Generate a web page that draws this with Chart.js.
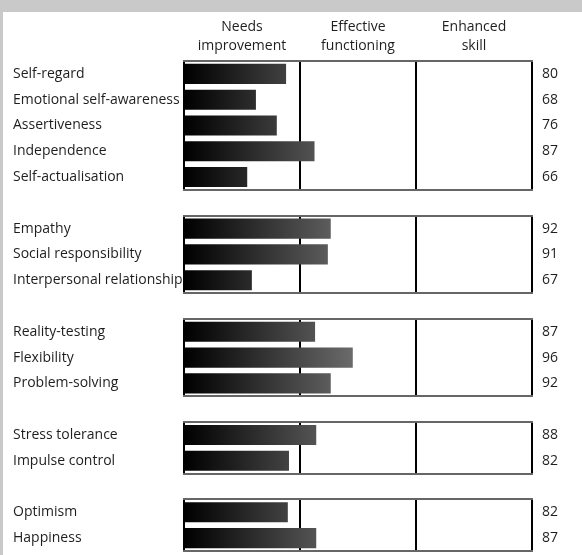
<!DOCTYPE html>
<html>
<head>
<meta charset="utf-8">
<script src="https://cdn.jsdelivr.net/npm/chart.js@4"></script>
<style>
  html, body { margin: 0; padding: 0; }
  body { width: 582px; height: 555px; background: #c9c9c9; position: relative; overflow: hidden; }
  #panel { position: absolute; left: 3px; top: 12px; right: 0; bottom: 0; background: #fff; }
  #wrap { position: absolute; left: 0; top: 0; width: 582px; height: 555px; }
</style>
</head>
<body>
<div id="panel"></div>
<div id="wrap"><canvas id="eq"></canvas></div>
<script>
// scale names and rows
const categories = [
    'Self-regard', 'Emotional self-awareness', 'Assertiveness', 'Independence', 'Self-actualisation',
    'Empathy', 'Social responsibility', 'Interpersonal relationship',
    'Reality-testing', 'Flexibility', 'Problem-solving',
    'Stress tolerance', 'Impulse control',
    'Optimism', 'Happiness'
];
const groupSizes = [5, 3, 3, 2, 2];

// printed scores (right hand column)
const scores = [80, 68, 76, 87, 66, 92, 91, 67, 87, 96, 92, 88, 82, 82, 87];

// bar lengths as drawn, read against the zone scale below
const barLengths = [87.6, 82.4, 86.0, 92.5, 80.9, 95.3, 94.8, 81.7, 92.6, 99.1, 95.3, 92.8, 88.1, 87.9, 92.8];

// zones
const zoneBounds = [70, 90, 110, 130];
const zoneLabels = [['Needs', 'improvement'], ['Effective', 'functioning'], ['Enhanced', 'skill']];

// put an empty row between groups
let rowLabels = [], rowScores = [], rowBars = [], groupRows = [];
let k = 0;
groupSizes.forEach(function(n, g){
    if (g > 0) {
        rowLabels.push('');
        rowScores.push('');
        rowBars.push(null);
    }
    let first = rowLabels.length;
    for (let i = 0; i < n; i++) {
        rowLabels.push(categories[k]);
        rowScores.push(String(scores[k]));
        rowBars.push(barLengths[k]);
        k++;
    }
    groupRows.push([first, rowLabels.length - 1]);
});

const textColor = '#1e1e1e';
const font = { family: '"Open Sans", "Noto Sans", sans-serif', size: 14 };

// boxes and zone lines behind the bars
const zoneBoxes = {
    id: 'zoneBoxes',
    beforeDatasetsDraw(chart) {
        const ctx = chart.ctx;
        const x = chart.scales.x, y = chart.scales.y;
        const half = (y.getPixelForValue(1) - y.getPixelForValue(0)) / 2;
        ctx.save();
        groupRows.forEach(function(r){
            let top = y.getPixelForValue(r[0]) - half;
            let bottom = y.getPixelForValue(r[1]) + half;
            ctx.lineWidth = 2;
            ctx.strokeStyle = '#000';
            zoneBounds.forEach(function(v){
                let px = Math.round(x.getPixelForValue(v));
                ctx.beginPath();
                ctx.moveTo(px, top);
                ctx.lineTo(px, bottom);
                ctx.stroke();
            });
            ctx.strokeStyle = '#666';
            let l = x.getPixelForValue(zoneBounds[0]) - 1;
            let rr = x.getPixelForValue(zoneBounds[3]) + 1;
            [top, bottom].forEach(function(py){
                ctx.beginPath();
                ctx.moveTo(l, Math.round(py));
                ctx.lineTo(rr, Math.round(py));
                ctx.stroke();
            });
        });
        ctx.restore();
    }
};

function barFill(context) {
    const chart = context.chart;
    if (!chart.chartArea) return '#000';
    const x = chart.scales.x;
    const g = chart.ctx.createLinearGradient(x.getPixelForValue(70), 0, x.getPixelForValue(99), 0);
    g.addColorStop(0, '#000000');
    g.addColorStop(1, '#6a6a6a');
    return g;
}

function noEdgePadding(scale, w) {
    scale.width = w;
    scale.paddingTop = 0;
    scale.paddingBottom = 0;
}

new Chart(document.getElementById('eq'), {
    type: 'bar',
    data: {
        labels: rowLabels,
        datasets: [{
            data: rowBars,
            base: zoneBounds[0],
            backgroundColor: barFill,
            borderWidth: 0,
            barPercentage: 0.78,
            categoryPercentage: 1
        }]
    },
    options: {
        indexAxis: 'y',
        responsive: true,
        maintainAspectRatio: false,
        animation: false,
        layout: { padding: { left: 13, right: 0, top: 0, bottom: 4 } },
        plugins: { legend: { display: false }, tooltip: { enabled: false } },
        scales: {
            x: {
                position: 'top',
                min: zoneBounds[0],
                max: zoneBounds[3],
                grid: { display: false, drawTicks: false, tickLength: 0 },
                border: { display: false },
                afterBuildTicks: function(scale){
                    scale.ticks = zoneLabels.map(function(t, i){
                        return { value: (zoneBounds[i] + zoneBounds[i + 1]) / 2 };
                    });
                },
                afterFit: function(scale){ scale.height = 61; },
                ticks: {
                    autoSkip: false,
                    maxRotation: 0,
                    padding: 6,
                    color: textColor,
                    font: Object.assign({ lineHeight: 1.35 }, font),
                    callback: function(v, i){ return zoneLabels[i]; }
                }
            },
            y: {
                position: 'left',
                grid: { display: false, drawTicks: false, tickLength: 0 },
                border: { display: false },
                afterFit: function(scale){ noEdgePadding(scale, 171); },
                ticks: { crossAlign: 'far', autoSkip: false, padding: 0, color: textColor, font: font }
            },
            y2: {
                type: 'category',
                position: 'right',
                labels: rowScores,
                offset: true,
                grid: { display: false, drawTicks: false, tickLength: 0 },
                border: { display: false },
                afterFit: function(scale){ noEdgePadding(scale, 50); },
                ticks: { autoSkip: false, padding: 10, color: textColor, font: font }
            }
        }
    },
    plugins: [zoneBoxes]
});
</script>
</body>
</html>
